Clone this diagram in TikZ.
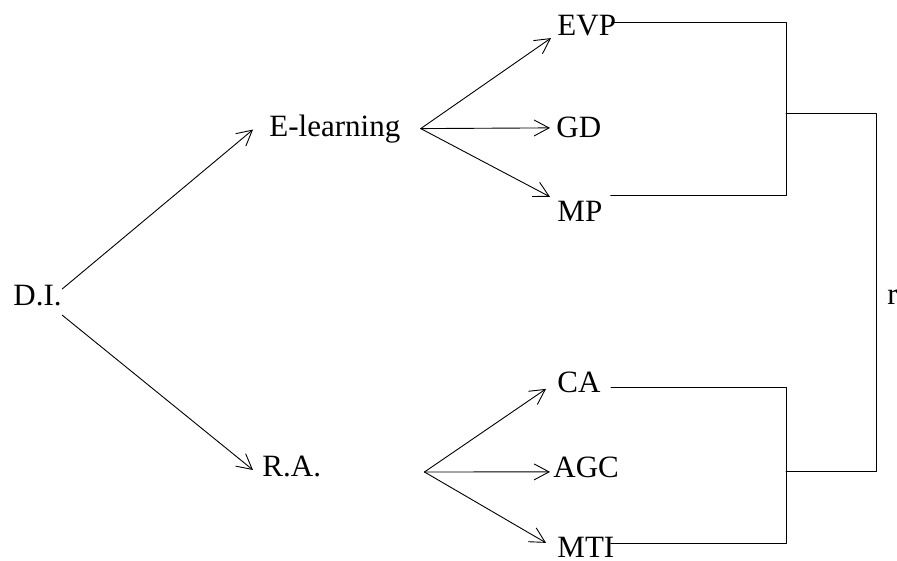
\documentclass[tikz,border=0pt]{standalone}
\usepackage{fontspec}
\setmainfont{Liberation Serif}
\usetikzlibrary{arrows.meta}
\tikzset{lbl/.style={inner sep=0pt, anchor=base west}}
\begin{document}
\begin{tikzpicture}[x=1pt,y=-1pt,>={Straight Barb[length=15pt,width=16pt]}, font=\fontsize{31}{37}\selectfont, line width=0.9pt, line join=round, line cap=round]
	\useasboundingbox (0,0) rectangle (897,561);
	\def\xbr{786} \def\xr{876} % bracket lines
	% labels
	\node[lbl] (di) at (13,306) {D.I.};
	\node[lbl] (el) at (269,137) {E-learning};
	\node[lbl] (ra) at (262,476) {R.A.};
	\node[lbl] (evp) at (557,36) {EVP};
	\node[lbl] (gd) at (556,138) {GD};
	\node[lbl] (mp) at (557,222) {MP};
	\node[lbl] (ca) at (557,392) {CA};
	\node[lbl] (agc) at (553,477) {AGC};
	\node[lbl] (mti) at (557,557) {MTI};
	\node[lbl] (r) at (887,305) {r};
	\coordinate (j1) at (\xbr,113);
	\coordinate (j2) at (\xbr,471);
	% arrows
	\draw[->] ([yshift=7pt]di.east) -- ([xshift=-16pt]el.west);
	\draw[->] ([yshift=-19pt]di.east) -- ([xshift=-9pt,yshift=-4pt]ra.west);
	\draw[->] ([xshift=20pt,yshift=1pt]el.east) -- ([xshift=-6pt,yshift=-12pt]evp.west);
	\draw[->] ([xshift=20pt,yshift=1pt]el.east) -- ([xshift=-6pt]gd.west);
	\draw[->] ([xshift=20pt,yshift=1pt]el.east) -- ([xshift=-7pt,yshift=15pt]mp.west);
	\draw[->] ([xshift=103pt,yshift=-6pt]ra.east) -- ([xshift=-11pt,yshift=-7pt]ca.west);
	\draw[->] ([xshift=103pt,yshift=-6pt]ra.east) -- ([xshift=-3pt,yshift=-5pt]agc.west);
	\draw[->] ([xshift=103pt,yshift=-6pt]ra.east) -- ([xshift=-11pt,yshift=4pt]mti.west);
	% brackets
	\draw ([xshift=-5pt,yshift=4pt]evp.east) -| (j1);
	\draw ([xshift=8pt,yshift=16pt]mp.east) -| (j1);
	\draw ([xshift=10pt,yshift=-6pt]ca.east) -| (j2);
	\draw ([xshift=-4pt,yshift=3pt]mti.east) -| (j2);
	\draw (j1) -- (\xr,113) |- (j2);
\end{tikzpicture}
\end{document}
